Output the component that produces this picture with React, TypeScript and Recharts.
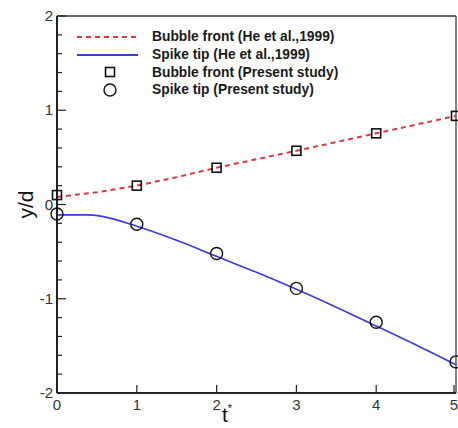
import React from "react";
import {
  ComposedChart,
  Line,
  Scatter,
  XAxis,
  YAxis,
  ReferenceLine,
} from "recharts";

// He et al. (1999) reference curves
const BUBBLE_HE_T = [0, 0.5, 1, 1.5, 2, 3, 4, 5];
const BUBBLE_HE_Y = [0.08, 0.13, 0.2, 0.29, 0.39, 0.57, 0.755, 0.94];
const SPIKE_HE_T = [0, 0.4, 1, 1.5, 2, 2.5, 3, 3.5, 4, 4.5, 5];
const SPIKE_HE_Y = [-0.11, -0.11, -0.23, -0.38, -0.55, -0.72, -0.9, -1.09, -1.29, -1.49, -1.7];

// present study markers
const STUDY_T = [0, 1, 2, 3, 4, 5];
const BUBBLE_STUDY_Y = [0.1, 0.2, 0.39, 0.57, 0.755, 0.94];
const SPIKE_STUDY_Y = [-0.1, -0.21, -0.52, -0.89, -1.25, -1.67];

const X_TICKS = [0, 1, 2, 3, 4, 5];
const Y_TICKS = [
  -2, -1.8, -1.6, -1.4, -1.2, -1, -0.8, -0.6, -0.4, -0.2, 0,
  0.2, 0.4, 0.6, 0.8, 1, 1.2, 1.4, 1.6, 1.8, 2,
];

const LEGEND = [
  "Bubble front (He et al.,1999)",
  "Spike tip (He et al.,1999)",
  "Bubble front (Present study)",
  "Spike tip (Present study)",
];

const RED = "#d23a45";
const BLUE = "#3a3ade";
const INK = "#222";

const zip = (ts: number[], ys: number[]) => ts.map((t, i) => ({ t, y: ys[i] }));

const bubbleHe = zip(BUBBLE_HE_T, BUBBLE_HE_Y);
const spikeHe = zip(SPIKE_HE_T, SPIKE_HE_Y);
const bubbleStudy = zip(STUDY_T, BUBBLE_STUDY_Y);
const spikeStudy = zip(STUDY_T, SPIKE_STUDY_Y);

const font = "Arial, 'Liberation Sans', sans-serif";

const YTick = (props: any) => {
  const { x, y, payload } = props;
  const v = payload.value;
  const major = Math.abs(v - Math.round(v)) < 1e-6;
  return (
    <g>
      <line x1={x} x2={x + (major ? 9 : 5)} y1={y} y2={y} stroke={INK} strokeWidth={1.2} />
      {major && (
        <text x={x - 4} y={y} dy={5} textAnchor="end" fontSize={15} fontFamily={font} fill="#333">
          {Math.round(v)}
        </text>
      )}
    </g>
  );
};

const XTick = (props: any) => {
  const { x, y, payload } = props;
  return (
    <g>
      <line x1={x} x2={x} y1={y} y2={y - 8} stroke={INK} strokeWidth={1.2} />
      <text x={x} y={y + 17} textAnchor="middle" fontSize={15} fontFamily={font} fill="#333">
        {payload.value}
      </text>
    </g>
  );
};

const Square = (p: any) => (
  <rect x={p.cx - 4.5} y={p.cy - 4.5} width={9} height={9} fill="none" stroke="#111" strokeWidth={1.6} />
);
const Circle = (p: any) => (
  <circle cx={p.cx} cy={p.cy} r={6} fill="none" stroke="#111" strokeWidth={1.4} />
);

const Marker = ({ i }: { i: number }) => {
  if (i === 0) return <line x1={11} x2={72} y1={9} y2={9} stroke={RED} strokeWidth={2} strokeDasharray="5 4" />;
  if (i === 1) return <line x1={11} x2={72} y1={9} y2={9} stroke={BLUE} strokeWidth={2} />;
  if (i === 2) return <rect x={39.5} y={4.5} width={9} height={9} fill="none" stroke="#111" strokeWidth={1.6} />;
  return <circle cx={44} cy={9} r={6} fill="none" stroke="#111" strokeWidth={1.4} />;
};

export default function App() {
  return (
    <div style={{ position: "absolute", left: 0, top: 0, width: 458, height: 428, background: "#fff" }}>
      <ComposedChart width={458} height={428} margin={{ top: 16, right: 2, left: 0, bottom: 0 }}>
        <XAxis
          dataKey="t"
          type="number"
          domain={[0, 5]}
          ticks={X_TICKS}
          height={35}
          tickSize={0}
          tickMargin={0}
          tickLine={false}
          tick={<XTick />}
          axisLine={{ stroke: INK, strokeWidth: 2 }}
          label={{
            content: (p: any) => (
              <text x={p.viewBox.x + 165} y={p.viewBox.y + 29} fontSize={21} fontFamily={font} fill="#111">
                t<tspan fontSize={11} dy={-10}>*</tspan>
              </text>
            ),
          }}
        />
        <YAxis
          type="number"
          domain={[-2, 2]}
          ticks={Y_TICKS}
          width={57}
          interval={0}
          tickSize={0}
          tickMargin={0}
          tickLine={false}
          tick={<YTick />}
          axisLine={{ stroke: INK, strokeWidth: 2 }}
          label={{
            content: (p: any) => {
              const cx = p.viewBox.x + 25;
              const cy = p.viewBox.y + p.viewBox.height / 2;
              return (
                <text
                  x={cx}
                  y={cy}
                  transform={`rotate(-90 ${cx} ${cy})`}
                  textAnchor="middle"
                  dominantBaseline="central"
                  fontSize={21}
                  fontFamily={font}
                  fill="#111"
                >
                  y/d
                </text>
              );
            },
          }}
        />
        <ReferenceLine y={2} stroke="#333" strokeWidth={1.5} />
        <ReferenceLine x={5} stroke="#555" strokeWidth={1.5} />
        <Line
          data={bubbleHe}
          dataKey="y"
          type="linear"
          stroke={RED}
          strokeWidth={2}
          strokeDasharray="5 4"
          dot={false}
          isAnimationActive={false}
        />
        <Line
          data={spikeHe}
          dataKey="y"
          type="monotone"
          stroke={BLUE}
          strokeWidth={1.6}
          dot={false}
          isAnimationActive={false}
        />
        <Scatter data={bubbleStudy} dataKey="y" shape={<Square />} isAnimationActive={false} />
        <Scatter data={spikeStudy} dataKey="y" shape={<Circle />} isAnimationActive={false} />
      </ComposedChart>
      <div style={{ position: "absolute", left: 66, top: 28, fontFamily: font, fontWeight: "bold", fontSize: 13.8, color: "#1a1a1a" }}>
        {LEGEND.map((name, i) => (
          <div key={name} style={{ display: "flex", alignItems: "center", height: 17.7 }}>
            <svg width={80} height={18} style={{ marginRight: 6 }}>
              <Marker i={i} />
            </svg>
            <span style={{ whiteSpace: "nowrap" }}>{name}</span>
          </div>
        ))}
      </div>
    </div>
  );
}
